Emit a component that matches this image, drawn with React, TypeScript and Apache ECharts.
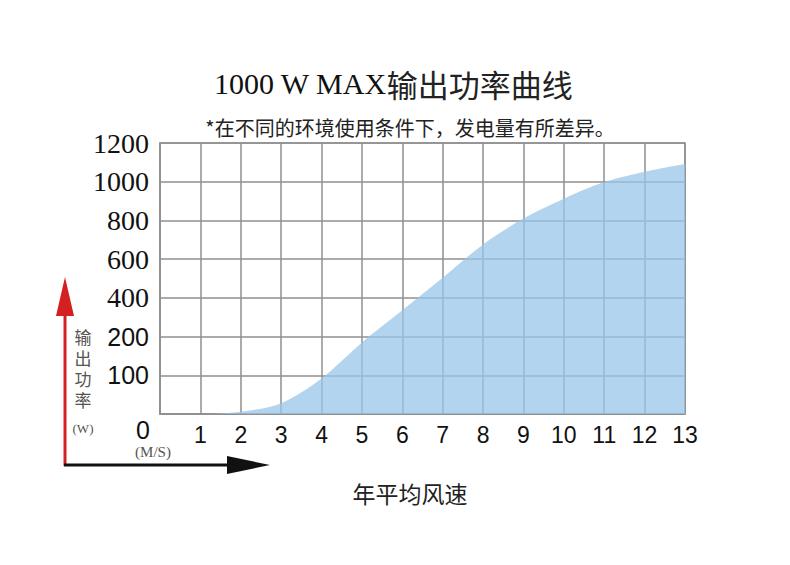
import { useEffect, useRef } from 'react';
import * as echarts from 'echarts';

// wind speed (m/s) on x, output power (W)
const windSpeeds = [0, 1, 2, 3, 4, 5, 6, 7, 8, 9, 10, 11, 12, 13];
const powerW = [0, 0, 6, 28, 92, 185, 336, 504, 676, 810, 912, 998, 1052, 1092];
// y gridlines are evenly spaced but the labels are not
const yTickWatts = [0, 100, 200, 400, 600, 800, 1000, 1200];

const titleNum = '1000 W MAX';
const titleCn = '输出功率曲线';
const subtitle = '*在不同的环境使用条件下，发电量有所差异。';
const yName = '输出功率';
const yUnit = '(W)';
const xUnit = '(M/S)';
const xName = '年平均风速';

const GRID_COLOR = '#8f8f8f';

// watts -> position on the evenly spaced y axis (one unit per gridline)
function toLevel(w: number) {
  for (let i = 0; i < yTickWatts.length - 1; i++) {
    const a = yTickWatts[i];
    const b = yTickWatts[i + 1];
    if (w <= b) return i + (w - a) / (b - a);
  }
  return yTickWatts.length - 1;
}

export default function App() {
  const chartRef = useRef<HTMLDivElement>(null);

  useEffect(() => {
    document.body.style.margin = '0';
    if (!chartRef.current) return;
    const chart = echarts.init(chartRef.current, null, { renderer: 'svg' });

    const seriesData = windSpeeds.map((x, i) => [x, toLevel(powerW[i])]);

    const yNameChars = yName.split('').map((ch, i) => ({
      type: 'text',
      style: {
        text: ch,
        x: 83,
        y: 338 + i * 21,
        align: 'center',
        verticalAlign: 'middle',
        fontSize: 17,
        lineHeight: 17,
        fontFamily: '"Liberation Sans", "Noto Sans CJK SC"',
        fill: '#555',
      },
    }));

    chart.setOption({
      animation: false,
      backgroundColor: '#fff',
      grid: {
        left: 160,
        right: 105,
        top: 143,
        bottom: 151,
        show: true,
        borderColor: GRID_COLOR,
        borderWidth: 1.5,
      },
      xAxis: {
        type: 'value',
        min: 0,
        max: 13,
        interval: 1,
        axisLine: { show: true, lineStyle: { color: GRID_COLOR, width: 1.5 } },
        axisTick: { show: false },
        splitLine: { show: true, lineStyle: { color: GRID_COLOR, width: 1.5 } },
        axisLabel: {
          margin: 9,
          fontSize: 23,
          fontFamily: 'Liberation Sans',
          color: '#111',
          formatter: (v: number) => (v === 0 ? '' : String(v)),
        },
      },
      yAxis: {
        type: 'value',
        min: 0,
        max: yTickWatts.length - 1,
        interval: 1,
        axisLine: { show: true, lineStyle: { color: GRID_COLOR, width: 1.5 } },
        axisTick: { show: false },
        splitLine: { show: true, lineStyle: { color: GRID_COLOR, width: 1.5 } },
        axisLabel: {
          margin: 11,
          formatter: (v: number) => {
            const idx = Math.round(v);
            if (idx === 0) return '';
            const w = yTickWatts[idx];
            return w >= 400 ? `{serif|${w}}` : `{sans|${w}}`;
          },
          rich: {
            serif: { fontFamily: 'Liberation Serif', fontSize: 28, color: '#111' },
            sans: { fontFamily: 'Liberation Sans', fontSize: 25, color: '#111' },
          },
        },
      },
      series: [
        {
          type: 'line',
          data: seriesData,
          smooth: 0.3,
          symbol: 'none',
          lineStyle: { width: 0 },
          areaStyle: { color: '#9ac5e8', opacity: 0.75 },
        },
      ],
      graphic: [
        {
          type: 'text',
          style: {
            text: `{a|${titleNum}}{b|${titleCn}}`,
            x: 393,
            y: 83,
            align: 'center',
            verticalAlign: 'middle',
            rich: {
              a: { fontFamily: 'Liberation Serif', fontSize: 30, fill: '#111', color: '#111' },
              b: { fontFamily: 'Noto Sans CJK SC', fontSize: 31, fill: '#222', color: '#222' },
            },
          },
        },
        {
          type: 'text',
          style: {
            text: subtitle,
            x: 410,
            y: 127,
            align: 'center',
            verticalAlign: 'middle',
            fontSize: 20,
            fontFamily: 'Noto Sans CJK SC',
            fill: '#222',
          },
        },
        {
          type: 'text',
          style: {
            text: '0',
            x: 143,
            y: 430,
            align: 'center',
            verticalAlign: 'middle',
            fontSize: 25,
            fontFamily: 'Liberation Sans',
            fill: '#111',
          },
        },
        ...yNameChars,
        {
          type: 'text',
          style: {
            text: yUnit,
            x: 83,
            y: 428,
            align: 'center',
            verticalAlign: 'middle',
            fontSize: 13,
            fontFamily: 'Liberation Serif',
            fill: '#555',
          },
        },
        {
          type: 'text',
          style: {
            text: xUnit,
            x: 153,
            y: 452,
            align: 'center',
            verticalAlign: 'middle',
            fontSize: 15,
            fontFamily: 'Liberation Serif',
            fill: '#555',
          },
        },
        {
          type: 'text',
          style: {
            text: xName,
            x: 410,
            y: 493,
            align: 'center',
            verticalAlign: 'middle',
            fontSize: 23,
            fontFamily: 'Noto Sans CJK SC',
            fill: '#222',
          },
        },
        // red y arrow
        {
          type: 'line',
          shape: { x1: 65, y1: 466, x2: 65, y2: 312 },
          style: { stroke: '#d42020', lineWidth: 3 },
        },
        {
          type: 'polygon',
          shape: { points: [[56, 316], [74, 316], [65, 277]] },
          style: { fill: '#d42020' },
        },
        // black x arrow
        {
          type: 'line',
          shape: { x1: 64, y1: 465, x2: 232, y2: 465 },
          style: { stroke: '#111', lineWidth: 3 },
        },
        {
          type: 'polygon',
          shape: { points: [[227, 456], [227, 474], [270, 465]] },
          style: { fill: '#111' },
        },
      ],
    });

    return () => {
      chart.dispose();
    };
  }, []);

  return <div ref={chartRef} style={{ width: 790, height: 565 }} />;
}
